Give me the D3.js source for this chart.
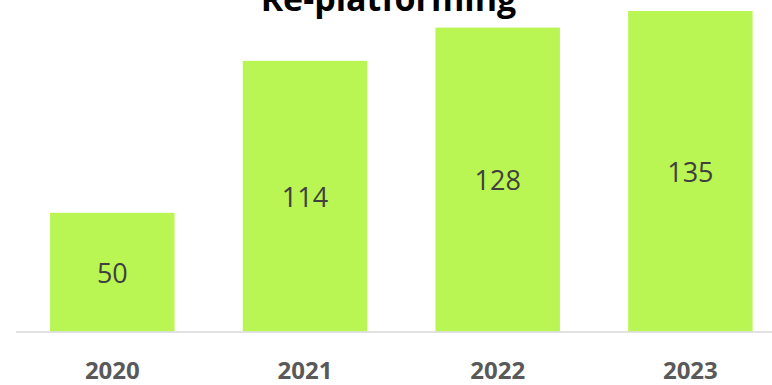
<!DOCTYPE html>
<html>
<head>
<meta charset="utf-8">
<script src="https://cdn.jsdelivr.net/npm/d3@7"></script>
<style>
  html, body { margin: 0; padding: 0; background: #fff; }
  #chart { width: 772px; height: 385px; overflow: hidden; }
</style>
</head>
<body>
<div id="chart"></div>
<script>
const years = ["2020", "2021", "2022", "2023"];
const values = [50, 114, 128, 135];
const title = "Re-platforming";

const width = 772;
const height = 385;
const barColour = "#b9f653";

const svg = d3
  .select("#chart")
  .append("svg")
  .attr("width", width)
  .attr("height", height);

// band range runs past the right edge, the plot is clipped there
const x = d3
  .scaleBand()
  .domain(years)
  .range([16, 786.7])
  .paddingInner(0.354)
  .paddingOuter(0.177);

const y = d3.scaleLinear().domain([0, 135]).range([331.5, 11]);

svg
  .selectAll(".bar")
  .data(values)
  .join("rect")
  .attr("class", "bar")
  .attr("x", (d, i) => x(years[i]))
  .attr("y", (d) => y(d))
  .attr("width", x.bandwidth())
  .attr("height", (d) => y(0) - y(d))
  .attr("fill", barColour);

svg
  .selectAll(".value")
  .data(values)
  .join("text")
  .attr("class", "value")
  .attr("x", (d, i) => x(years[i]) + x.bandwidth() / 2)
  .attr("y", (d) => (y(d) + y(0)) / 2)
  .attr("text-anchor", "middle")
  .attr("dominant-baseline", "central")
  .style("font-family", "'Open Sans', sans-serif")
  .style("font-size", "27px")
  .style("fill", "#404040")
  .text((d) => d);

// x axis: plain grey baseline plus bold year labels
const axis = svg
  .append("g")
  .attr("transform", `translate(0,${y(0)})`)
  .call(d3.axisBottom(x).tickSize(0).tickPadding(30));

axis
  .select(".domain")
  .attr("d", `M16,0.5H${width}`)
  .attr("stroke", "#d9d9d9")
  .attr("stroke-width", 1.5);

axis
  .selectAll("text")
  .style("font-family", "'Open Sans', sans-serif")
  .style("font-size", "24px")
  .style("font-weight", "bold")
  .style("fill", "#595959");

// title sits partly above the top edge, as in the original
svg
  .append("text")
  .attr("x", 388.5)
  .attr("y", 11)
  .attr("text-anchor", "middle")
  .style("font-family", "'Open Sans', sans-serif")
  .style("font-size", "34px")
  .style("font-weight", "bold")
  .style("fill", "#000")
  .text(title);
</script>
</body>
</html>
